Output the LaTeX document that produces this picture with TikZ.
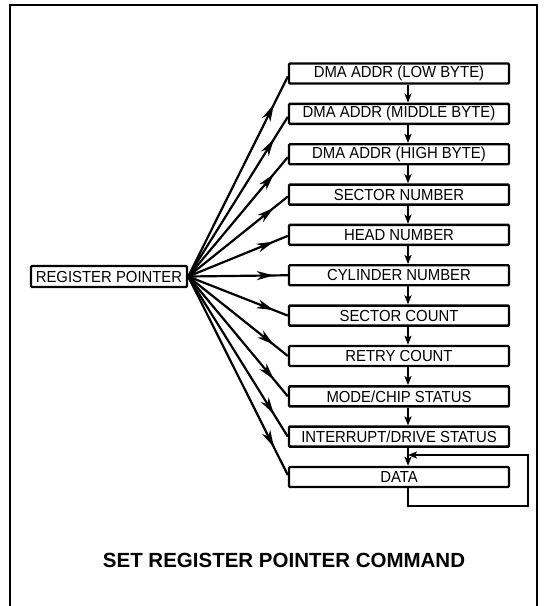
\documentclass[tikz,border=0pt]{standalone}
\usepackage{fontspec}
\setmainfont{Liberation Sans}
\newfontfamily\regfont[FakeStretch=0.93]{Liberation Sans}
\usetikzlibrary{arrows.meta, positioning, decorations.markings}

\begin{document}
\begin{tikzpicture}[
  x=1pt, y=-1pt,
  node distance=17.95pt,
  reg/.style={draw, line width=2.4pt, rounded corners=1pt, minimum width=220pt, minimum height=20pt, inner sep=0pt, font=\regfont\fontsize{16}{18}\selectfont},
  ptr/.style={draw, line width=2.4pt, rounded corners=1pt, minimum width=156pt, minimum height=21pt, inner sep=0pt, font=\regfont\fontsize{16}{18}\selectfont},
  title/.style={font=\bfseries\fontsize{20.5}{23}\selectfont},
  arrow/.style={line width=2.2pt, postaction={decorate}, decoration={markings, mark=at position 0.86 with {\arrow{Stealth[length=17pt,width=9pt,inset=5pt]}}}},
  chain/.style={-{Stealth[length=9pt,width=7pt,inset=2pt]}, line width=2.2pt},
  frame/.style={line width=1.5pt},
]
\useasboundingbox (0,0) rectangle (547,606);

% Frame
\draw[frame] (10,606) -- (10,5) -- (537,5) -- (537,606);

% Nodes
\node[reg] (low) at (399,73.5) {DMA ADDR (LOW BYTE)};
\node[reg, below=of low] (middle) {DMA ADDR (MIDDLE BYTE)};
\node[reg, below=of middle] (high) {DMA ADDR (HIGH BYTE)};
\node[reg, below=of high] (secnum) {SECTOR NUMBER};
\node[reg, below=of secnum] (head) {HEAD NUMBER};
\node[reg, below=of head] (cyl) {CYLINDER NUMBER};
\node[reg, below=of cyl] (seccount) {SECTOR COUNT};
\node[reg, below=of seccount] (retry) {RETRY COUNT};
\node[reg, below=of retry] (mode) {MODE/CHIP STATUS};
\node[reg, below=of mode] (intr) {INTERRUPT/DRIVE STATUS};
\node[reg, below=of intr] (data) {DATA};
\node[ptr] (regptr) at (109,276.5) {REGISTER POINTER};

% Title
\node[title] (cmd) at (284,560) {SET REGISTER POINTER COMMAND};

% Loop points
\coordinate (loopin) at (408,455);
\coordinate (loopturn) at (528,455);

% Arrows
\draw[arrow] (regptr.east) -- ([yshift=-3pt]low.west);
\draw[arrow] (regptr.east) -- ([yshift=-3pt]middle.west);
\draw[arrow] (regptr.east) -- ([yshift=-3pt]high.west);
\draw[arrow] (regptr.east) -- ([yshift=-2pt]secnum.west);
\draw[arrow] (regptr.east) -- ([yshift=-1pt]head.west);
\draw[arrow] (regptr.east) -- (cyl.west);
\draw[arrow] (regptr.east) -- (seccount.west);
\draw[arrow] (regptr.east) -- (retry.west);
\draw[arrow] (regptr.east) -- (mode.west);
\draw[arrow] (regptr.east) -- (intr.west);
\draw[arrow] (regptr.east) -- ([yshift=2pt]data.west);

\draw[chain] ([xshift=9pt]low.south) -- ([xshift=9pt]middle.north);
\draw[chain] ([xshift=9pt]middle.south) -- ([xshift=9pt]high.north);
\draw[chain] ([xshift=9pt]high.south) -- ([xshift=9pt]secnum.north);
\draw[chain] ([xshift=9pt]secnum.south) -- ([xshift=9pt]head.north);
\draw[chain] ([xshift=9pt]head.south) -- ([xshift=9pt]cyl.north);
\draw[chain] ([xshift=9pt]cyl.south) -- ([xshift=9pt]seccount.north);
\draw[chain] ([xshift=9pt]seccount.south) -- ([xshift=9pt]retry.north);
\draw[chain] ([xshift=9pt]retry.south) -- ([xshift=9pt]mode.north);
\draw[chain] ([xshift=9pt]mode.south) -- ([xshift=9pt]intr.north);
\draw[chain] ([xshift=9pt]intr.south) -- ([xshift=9pt]data.north);
\draw[chain] ([xshift=9pt]data.south) -- ++(0,18) -| (loopturn) -- (loopin);

\end{tikzpicture}
\end{document}
